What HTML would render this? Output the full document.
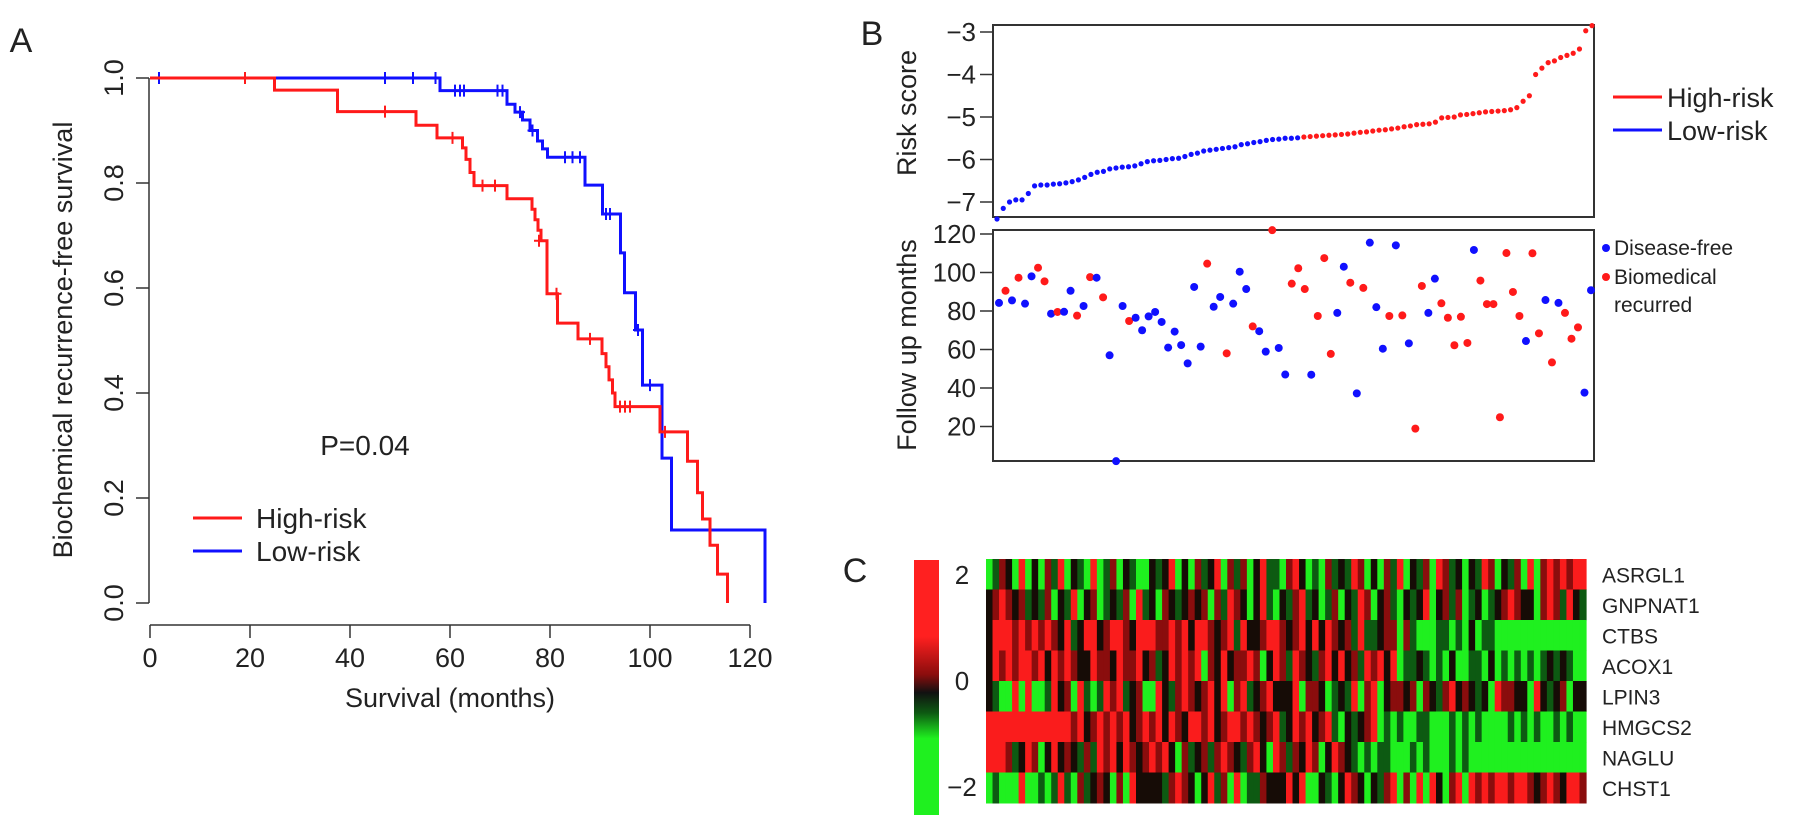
<!DOCTYPE html>
<html><head><meta charset="utf-8">
<style>
html,body{margin:0;padding:0;background:#fff;}
svg{display:block;font-family:"Liberation Sans",Arial,sans-serif;}
</style></head>
<body>
<svg id="fig" width="1795" height="829" viewBox="0 0 1795 829" xmlns="http://www.w3.org/2000/svg">
  <g id="panelA"></g>
  <g id="panelB"></g>
  <g id="panelC"></g>
</svg>
<script>
// ---------- Panel A data ----------
const aXTicks = [0,20,40,60,80,100,120];
const aYTicks = [0.0,0.2,0.4,0.6,0.8,1.0];
const highTimes = [0,24.9,37.5,53.2,57.4,62.5,63.2,64,64.8,71.4,76.4,77,77.6,78.2,79.4,81.5,85.6,90.4,91.2,91.8,92.5,93,102,107.5,109.5,110.5,112,113.5,115.5];
const highSurv  = [1,0.977,0.936,0.91,0.886,0.867,0.845,0.82,0.795,0.77,0.75,0.73,0.71,0.69,0.589,0.533,0.503,0.475,0.45,0.425,0.4,0.374,0.326,0.27,0.21,0.16,0.11,0.055,0];
const highCens  = [[19,1],[47,0.936],[60.5,0.886],[66.5,0.795],[69,0.795],[77.8,0.69],[81.3,0.589],[88,0.503],[94,0.374],[95,0.374],[96,0.374],[103,0.326]];
const lowTimes = [0,58,71.4,73,74.5,76,77.5,78.5,79.5,87,90.5,94.1,94.9,97.1,98.5,102.4,104.3,123];
const lowSurv  = [1,0.976,0.95,0.935,0.92,0.9,0.88,0.865,0.849,0.796,0.741,0.667,0.591,0.52,0.415,0.276,0.139,0];
const lowCens  = [[1.8,1],[47,1],[52.6,1],[57.1,1],[61,0.976],[62,0.976],[62.8,0.976],[69.5,0.976],[70.5,0.976],[74,0.935],[76.5,0.9],[83,0.849],[84.5,0.849],[86,0.849],[91.2,0.741],[92,0.741],[97.6,0.52],[100,0.415]];

// ---------- Panel B data ----------
const riskLow = [-7.4,-7.15,-7.0,-6.95,-6.95,-6.8,-6.62,-6.6,-6.6,-6.58,-6.57,-6.55,-6.52,-6.48,-6.42,-6.35,-6.3,-6.28,-6.22,-6.2,-6.18,-6.17,-6.15,-6.1,-6.05,-6.03,-6.02,-6.0,-5.98,-5.97,-5.93,-5.88,-5.85,-5.8,-5.78,-5.76,-5.74,-5.72,-5.7,-5.65,-5.63,-5.6,-5.58,-5.55,-5.53,-5.52,-5.5,-5.5,-5.49];
const riskHigh = [-5.47,-5.46,-5.45,-5.44,-5.43,-5.42,-5.41,-5.40,-5.38,-5.36,-5.35,-5.33,-5.31,-5.30,-5.28,-5.26,-5.23,-5.21,-5.18,-5.17,-5.16,-5.12,-5.02,-5.01,-5.0,-4.95,-4.94,-4.92,-4.90,-4.88,-4.87,-4.86,-4.85,-4.83,-4.78,-4.63,-4.5,-4.0,-3.85,-3.72,-3.68,-3.6,-3.55,-3.5,-3.4,-2.97,-2.85];
const riskTicks = [-7,-6,-5,-4,-3];
const followMonths = [84.2,90.5,85.5,97.3,83.8,98,102.5,95.4,78.6,79.5,79.6,90.5,77.6,82.6,97.6,97.3,87.1,57,2,82.6,74.8,76.5,70,77.2,79.5,74.3,61,69.3,62.3,52.8,92.5,61.5,104.6,82.2,87.3,58,83.8,100.4,91.4,72,69.5,58.9,122,60.8,47,94.2,102.2,91.4,46.9,77.4,107.5,57.7,79,103,94.7,37.2,92,115.5,82,60.4,77.4,114.1,77.7,63.2,18.9,93,79,96.8,84,76.5,62.2,77,63.4,111.7,95.8,83.6,83.6,24.8,110.1,89.9,77.4,64.4,110,68.4,85.7,53.3,84.2,79,65.6,71.5,37.6,90.8];
const followStatus = "BRBRBBRRBRBBRBRBRBBBRBBBBBBBBBBBRBBRBBBRBBRBBRRRBRRRBBRBRBBBRBRBRRBBRRRRRBRRRRRRRBRRBRBRRR";
const followTicks = [20,40,60,80,100,120];

// ---------- Panel C data ----------
const genes = ["ASRGL1","GNPNAT1","CTBS","ACOX1","LPIN3","HMGCS2","NAGLU","CHST1"];
const heatRows = [
"01320402031402104013021002124020312403130241103420103121430203140213043120214302130403434344",
"23432312130214023012130412032123230314320241021341201302143023102124023130120123432203431421",
"24443434343241244234432444334342443234142234432342424323141123303100011010201100000000000000",
"24343443424343224332433423124343403242334302431432134242314342401121010200110201010101212100",
"21004040014230410143412300421343234240341234222403320121403402332303213423212043322042123022",
"44444444444443423434342343424324434234434323412434234102123401010011000101010000101010010100",
"44431243024232131434243234342031231343213420431324302432101011000101000101000000000000000000",
"01000400101410312320304222213432024130401132224240021024320213403040420340434344344323432443"
];
const legendTicks = [2,0,-2];

// ---------- helpers ----------
const NS="http://www.w3.org/2000/svg";
function mk(tag, parent, attrs){const e=document.createElementNS(NS,tag);for(const k in attrs)e.setAttribute(k,attrs[k]);parent.appendChild(e);return e;}
function txt(parent, s, x, y, size, anchor, rot){const t=mk('text',parent,{x:x,y:y,'font-size':size,'text-anchor':anchor||'middle',fill:'#222'});if(rot)t.setAttribute('transform','rotate('+rot+' '+x+' '+y+')');t.textContent=s;return t;}

// ---------- Panel A ----------
(function(){
const g=document.getElementById('panelA');
const ax=t=>150+t*5, ay=v=>603-v*525;
txt(g,'A',21,52,34,'middle');
const yaxis=mk('path',g,{d:'M149 '+ay(0)+' V'+ay(1),stroke:'#333','stroke-width':1.5,fill:'none'});


aYTicks.forEach(v=>{
  mk('line',g,{x1:136,x2:149,y1:ay(v),y2:ay(v),stroke:'#333','stroke-width':1.5});
  const t=txt(g,v.toFixed(1),123,ay(v),27,'middle',-90);
  
  
});
const xaxis=mk('path',g,{d:'M'+ax(0)+' 625 H'+ax(120),stroke:'#333','stroke-width':1.5,fill:'none'});


aXTicks.forEach(v=>{
  mk('line',g,{x1:ax(v),x2:ax(v),y1:625,y2:638,stroke:'#333','stroke-width':1.5});
  const t=txt(g,String(v),ax(v),667,27,'middle');
  
  
});
const yl=txt(g,'Biochemical recurrence-free survival',72,340,27,'middle',-90);


const xl=txt(g,'Survival (months)',450,707,27,'middle');


function km(times,surv,endT,color,name,cens){
  let d='M'+ax(times[0])+' '+ay(surv[0]);
  for(let i=1;i<times.length;i++){d+=' H'+ax(times[i])+' V'+ay(surv[i]);}
  if(endT>times[times.length-1]) d+=' H'+ax(endT);
  const p=mk('path',g,{d:d,stroke:color,'stroke-width':3,fill:'none'});
  
  
  cens.forEach(c=>{
    const m=mk('path',g,{d:'M'+(ax(c[0])-5)+' '+ay(c[1])+' h10 M'+ax(c[0])+' '+(ay(c[1])-6)+' v12',stroke:color,'stroke-width':2});
    
    
  });
}
km(lowTimes,lowSurv,123,'#1010ff','low-risk-curve',lowCens);
km(highTimes,highSurv,115.5,'#ff1a1a','high-risk-curve',highCens);
const pv=txt(g,'P=0.04',365,455,28,'middle');


mk('line',g,{x1:193,x2:242,y1:518,y2:518,stroke:'#ff1a1a','stroke-width':3});
mk('line',g,{x1:193,x2:242,y1:551,y2:551,stroke:'#1010ff','stroke-width':3});
const l1=txt(g,'High-risk',256,528,28,'start');


const l2=txt(g,'Low-risk',256,561,28,'start');


})();

// ---------- Panel B ----------
(function(){
const g=document.getElementById('panelB');
const L=993,R=1594;
txt(g,'B',872,45,34,'middle');
const tb=mk('rect',g,{x:L,y:25,width:R-L,height:192,fill:'none',stroke:'#333','stroke-width':2});


const ry=v=>32+(-3-v)*42.5;
riskTicks.forEach(v=>{
  mk('line',g,{x1:980,x2:L,y1:ry(v),y2:ry(v),stroke:'#333','stroke-width':1.5});
  const t=txt(g,'\u2212'+Math.abs(v),976,ry(v)+9,26,'end');
  
  
});
const rt=txt(g,'Risk score',916,113,27,'middle',-90);


const allRisk=riskLow.concat(riskHigh);
const nR=allRisk.length;
const rx=i=>997+i*(1592-997)/(nR-1);
allRisk.forEach((v,i)=>{
  const c=mk('circle',g,{cx:rx(i),cy:ry(v),r:2.6,fill:i<riskLow.length?'#1010ff':'#ff1a1a'});
  
  
});
mk('line',g,{x1:1613,x2:1662,y1:97,y2:97,stroke:'#ff1a1a','stroke-width':3});
mk('line',g,{x1:1613,x2:1662,y1:130,y2:130,stroke:'#1010ff','stroke-width':3});
const a1=txt(g,'High-risk',1667,107,27,'start');


const a2=txt(g,'Low-risk',1667,140,27,'start');


const bb=mk('rect',g,{x:L,y:230,width:R-L,height:231,fill:'none',stroke:'#333','stroke-width':2});


const fy=v=>234+(120-v)*1.925;
followTicks.forEach(v=>{
  mk('line',g,{x1:980,x2:L,y1:fy(v),y2:fy(v),stroke:'#333','stroke-width':1.5});
  const t=txt(g,String(v),976,fy(v)+9,26,'end');
  
  
});
const ft=txt(g,'Follow up months',916,345,27,'middle',-90);


const nF=followMonths.length;
const fx=i=>999+i*(1591-999)/(nF-1);
followMonths.forEach((v,i)=>{
  const c=mk('circle',g,{cx:fx(i),cy:fy(v),r:4,fill:followStatus[i]==='R'?'#ff1a1a':'#1010ff'});
  
  
});
mk('circle',g,{cx:1606,cy:248,r:4,fill:'#1010ff'});
mk('circle',g,{cx:1606,cy:277,r:4,fill:'#ff1a1a'});
const d1=txt(g,'Disease-free',1614,255,21,'start');


const d2=txt(g,'Biomedical',1614,284,21,'start');


txt(g,'recurred',1614,312,21,'start');
})();

// ---------- Panel C ----------
(function(){
const g=document.getElementById('panelC');
txt(g,'C',855,582,34,'middle');
const colors=['#1ff01f','#0d5a12','#160c06','#8a0d0d','#fa1c1c'];
const X0=986,X1=1586,Y0=559,Y1=803;
const rh=(Y1-Y0)/heatRows.length;
heatRows.forEach((row,r)=>{
  const cw=(X1-X0)/row.length;
  for(let c=0;c<row.length;c++){
    const cell=mk('rect',g,{x:(X0+c*cw).toFixed(2),y:(Y0+r*rh).toFixed(2),width:(cw+0.6).toFixed(2),height:(rh+0.5).toFixed(2),fill:colors[+row[c]]});
    
    
  }
  const t=txt(g,genes[r],1602,Y0+r*rh+rh/2+8,21,'start');
  
  
});
const defs=mk('defs',g,{});
const lg=mk('linearGradient',defs,{id:'ck',x1:0,y1:0,x2:0,y2:1});
[['0','#ff2020'],['0.3','#ff2020'],['0.45','#8a0d0d'],['0.52','#111'],['0.6','#0d5a12'],['0.7','#1ff01f'],['1','#1ff01f']].forEach(s=>mk('stop',lg,{offset:s[0],'stop-color':s[1]}));
const key=mk('rect',g,{x:914,y:560,width:25,height:255,fill:'url(#ck)'});


const ky=v=>575+(2-v)*53;
legendTicks.forEach(v=>{
  const t=txt(g,v<0?'\u2212'+Math.abs(v):String(v),962,ky(v)+9,26,'middle');
  
  
});
})();
</script>
</body></html>
